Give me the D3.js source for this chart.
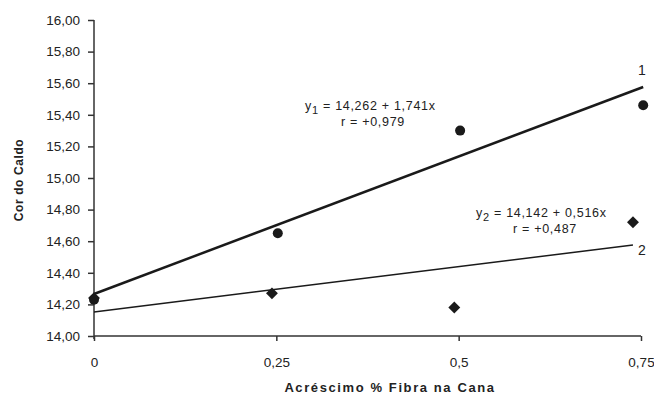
<!DOCTYPE html>
<html>
<head>
<meta charset="utf-8">
<script src="https://cdn.jsdelivr.net/npm/d3@7"></script>
<style>
  body { margin: 0; background: #fff; }
  text { font-family: "Liberation Sans", Arial, sans-serif; fill: #222; }
</style>
</head>
<body>
<div id="chart-area"></div>
<script>
// data
let xTicks = [0, 0.25, 0.5, 0.75];
let xTickLabels = ["0", "0,25", "0,5", "0,75"];
let yTicks = [14.0, 14.2, 14.4, 14.6, 14.8, 15.0, 15.2, 15.4, 15.6, 15.8, 16.0];

// serie 1 (circulos)
let x1 = [0, 0.252, 0.502, 0.753];
let y1 = [14.23, 14.65, 15.30, 15.46];
// serie 2 (losangos)
let x2 = [0, 0.244, 0.494, 0.739];
let y2 = [14.24, 14.27, 14.18, 14.72];

// retas de regressao (inicio e fim)
let trend1X = [0, 0.753];
let trend1Y = [14.266, 15.576];
let trend2X = [0, 0.739];
let trend2Y = [14.152, 14.576];

let w = 654;
let h = 401;

let svg = d3.select("#chart-area")
    .append("svg")
    .attr("width", w)
    .attr("height", h);

let x = d3.scaleLinear()
    .domain([0, 0.75])
    .range([94, 641]);

let y = d3.scaleLinear()
    .domain([14, 16])
    .range([336, 20]);

let comma = d3.formatLocale({decimal: ",", thousands: ".", grouping: [3], currency: ["", ""]});

// y axis
let yAxis = svg.append("g")
    .attr("transform", "translate(94,0)")
    .call(d3.axisLeft(y).tickValues(yTicks).tickSize(6).tickPadding(8).tickFormat(comma.format(".2f")));

// x axis
let xAxis = svg.append("g")
    .attr("transform", "translate(0,336)")
    .call(d3.axisBottom(x).tickValues(xTicks).tickSize(5).tickPadding(16)
      .tickFormat(function(d, i){ return xTickLabels[i]; }));

svg.selectAll(".domain").attr("stroke", "#333").attr("stroke-width", 1.5);
svg.selectAll(".tick line").attr("stroke", "#333").attr("stroke-width", 1.5);
svg.selectAll(".tick text")
    .attr("font-size", 13.5)
    .attr("font-family", "Liberation Sans, Arial, sans-serif")
    .attr("fill", "#222");
xAxis.select(".domain").attr("d", "M94,0H641");
yAxis.select(".domain").attr("d", "M0,20V339");

// axis titles
svg.append("text")
    .attr("x", 390)
    .attr("y", 392)
    .attr("text-anchor", "middle")
    .attr("font-size", 13)
    .attr("font-weight", "bold")
    .attr("letter-spacing", 1.6)
    .text("Acréscimo % Fibra na Cana");

svg.append("text")
    .attr("transform", "translate(23,180) rotate(-90)")
    .attr("text-anchor", "middle")
    .attr("font-size", 12)
    .attr("font-weight", "bold")
    .attr("letter-spacing", 0.6)
    .text("Cor do Caldo");

// regression lines
svg.append("line")
    .attr("x1", x(trend1X[0])).attr("y1", y(trend1Y[0]))
    .attr("x2", x(trend1X[1])).attr("y2", y(trend1Y[1]))
    .attr("stroke", "#1a1a1a")
    .attr("stroke-width", 2.5);

svg.append("line")
    .attr("x1", x(trend2X[0])).attr("y1", y(trend2Y[0]))
    .attr("x2", x(trend2X[1])).attr("y2", y(trend2Y[1]))
    .attr("stroke", "#1a1a1a")
    .attr("stroke-width", 1.5);

// points
svg.selectAll("circle")
    .data(x1)
    .enter()
    .append("circle")
    .attr("cx", function(d){ return x(d); })
    .attr("cy", function(d, i){ return y(y1[i]); })
    .attr("r", 5)
    .attr("fill", "#1a1a1a");

svg.selectAll("path.diamond")
    .data(x2)
    .enter()
    .append("path")
    .attr("class", "diamond")
    .attr("d", d3.symbol().type(d3.symbolDiamond2).size(90))
    .attr("transform", function(d, i){ return "translate(" + x(d) + "," + y(y2[i]) + ")"; })
    .attr("fill", "#1a1a1a");

// equations
let eq1 = svg.append("text").attr("x", 305).attr("y", 110).attr("font-size", 12.5).attr("letter-spacing", 0.7);
eq1.append("tspan").text("y");
eq1.append("tspan").attr("dy", 4).attr("font-size", 11).text("1");
eq1.append("tspan").attr("dy", -4).text(" = 14,262 + 1,741x");
svg.append("text").attr("x", 373).attr("y", 126).attr("font-size", 12.5).attr("letter-spacing", 0.7)
    .attr("text-anchor", "middle").text("r = +0,979");

let eq2 = svg.append("text").attr("x", 476).attr("y", 217).attr("font-size", 12.5).attr("letter-spacing", 0.7);
eq2.append("tspan").text("y");
eq2.append("tspan").attr("dy", 4).attr("font-size", 11).text("2");
eq2.append("tspan").attr("dy", -4).text(" = 14,142 + 0,516x");
svg.append("text").attr("x", 545).attr("y", 233).attr("font-size", 12.5).attr("letter-spacing", 0.7)
    .attr("text-anchor", "middle").text("r = +0,487");

// line labels
svg.append("text").attr("x", 638).attr("y", 75).attr("font-size", 14).text("1");
svg.append("text").attr("x", 638).attr("y", 255).attr("font-size", 14).text("2");
</script>
</body>
</html>
